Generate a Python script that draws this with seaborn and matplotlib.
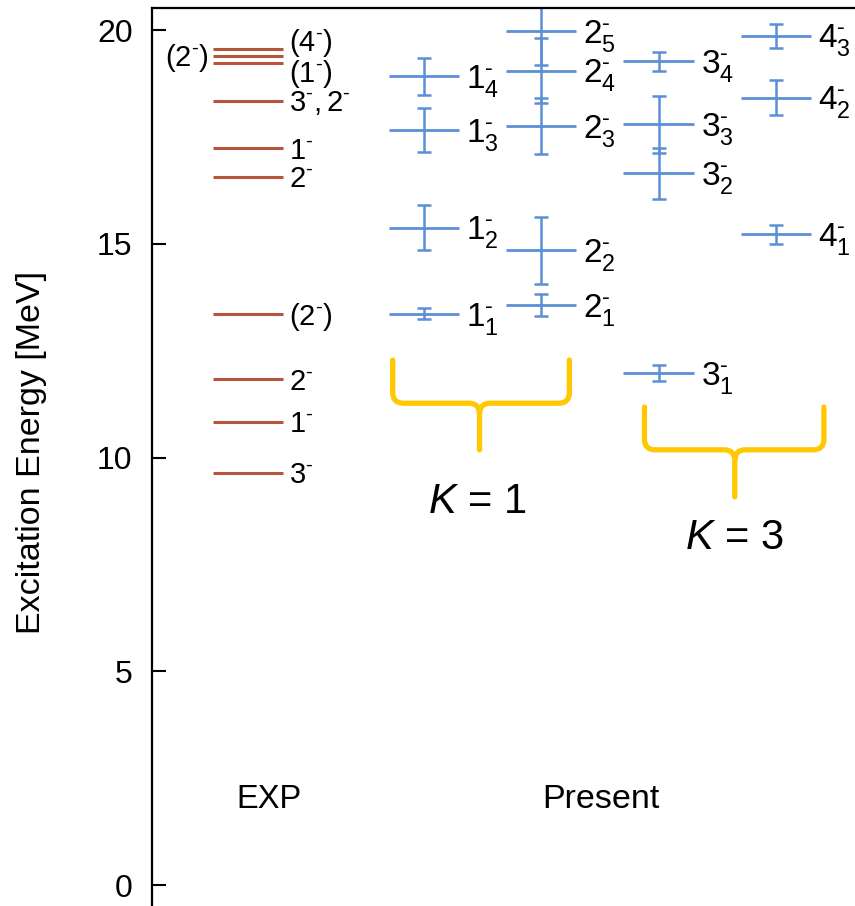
import numpy as np
import pandas as pd
import matplotlib
matplotlib.use("Agg")
import matplotlib.pyplot as plt
from matplotlib.path import Path
from matplotlib.patches import PathPatch
import seaborn as sns

# ---------------- data ----------------
M = "\u2010"  # small hyphen used as the parity sign
exp_energy = [9.64, 10.84, 11.83, 13.35, 16.57, 17.23, 18.35, 19.22, 19.40, 19.55]
exp_label = [r"$3^{%s}$" % M, r"$1^{%s}$" % M, r"$2^{%s}$" % M, r"$(2^{%s})$" % M,
             r"$2^{%s}$" % M, r"$1^{%s}$" % M, r"$3^{%s},2^{%s}$" % (M, M),
             r"$(1^{%s})$" % M, r"$(2^{%s})$" % M, r"$(4^{%s})$" % M]

j1_energy = [13.36, 15.38, 17.66, 18.92]
j1_err = [0.13, 0.53, 0.52, 0.43]
j2_energy = [13.57, 14.85, 17.75, 19.05, 19.98]
j2_err = [0.25, 0.78, 0.65, 0.76, 0.80]
j3_energy = [11.98, 16.65, 17.79, 19.27]
j3_err = [0.19, 0.60, 0.67, 0.22]
j4_energy = [15.22, 18.42, 19.87]
j4_err = [0.23, 0.41, 0.28]
spins = [1, 2, 3, 4]

yticks = [0, 5, 10, 15, 20]
ylabel = "Excitation Energy [MeV]"
group_labels = ["EXP", "Present"]
k_labels = [r"$\mathit{K}$ = 1", r"$\mathit{K}$ = 3"]

# ---------------- style ----------------
sns.set_theme(style="ticks")
plt.rcParams["font.family"] = ["Liberation Sans", "DejaVu Sans"]
plt.rcParams["mathtext.fontset"] = "custom"
plt.rcParams["mathtext.rm"] = "Liberation Sans"
plt.rcParams["mathtext.it"] = "Liberation Sans:italic"
plt.rcParams["mathtext.default"] = "regular"
plt.rcParams["text.color"] = "black"
plt.rcParams["axes.labelcolor"] = "black"

EXP_COLOR = "#B5553A"
TH_COLOR = "#5B8FD6"
BRACE_COLOR = "#FFC800"

fig = plt.figure(figsize=(8.55, 9.06), dpi=100)
ax = fig.add_axes([152 / 855, 0.0, 703 / 855, 898 / 906])
ax.set_xlim(-0.818, 5.175)
ax.set_ylim(-0.491, 20.515)

hw = 0.3  # half width of a level line
x_exp = 0.0
x_cols = [1.5, 2.5, 3.5, 4.5]

# experimental levels
df_exp = pd.DataFrame({"E": exp_energy, "label": exp_label})
ax.hlines(df_exp["E"], x_exp - hw, x_exp + hw, color=EXP_COLOR, lw=2.2)
label_shift = {9: 0.20, 7: -0.20}
for i, (e, lab) in enumerate(zip(exp_energy, exp_label)):
    if i == 8:
        ax.annotate(lab, xy=(x_exp - hw, e), xytext=(-3, -7.5), textcoords="offset points",
                    ha="right", va="baseline", fontsize=21)
    else:
        ax.annotate(lab, xy=(x_exp + hw, e + label_shift.get(i, 0.0)), xytext=(4, -7.5),
                    textcoords="offset points", ha="left", va="baseline", fontsize=21)

# calculated levels
rows = []
for j, en, er, xc in zip(spins, [j1_energy, j2_energy, j3_energy, j4_energy],
                         [j1_err, j2_err, j3_err, j4_err], x_cols):
    for n, (e, d) in enumerate(zip(en, er), start=1):
        rows.append({"J": j, "n": n, "E": e, "err": d, "x": xc})
df_th = pd.DataFrame(rows)

ax.hlines(df_th["E"], df_th["x"] - hw, df_th["x"] + hw, color=TH_COLOR, lw=2.0)
ax.errorbar(df_th["x"], df_th["E"], yerr=df_th["err"], fmt="none", ecolor=TH_COLOR,
            elinewidth=1.8, capsize=5, capthick=1.8)
for _, r in df_th.iterrows():
    ax.annotate(r"$%d^{%s}_{%d}$" % (r["J"], M, r["n"]), xy=(r["x"] + hw, r["E"]),
                xytext=(5, -8.5), textcoords="offset points", ha="left", va="baseline",
                fontsize=24)


# braces
def brace(x0, x1, xm, ytop, ymid, ybot, rx=0.09, ry=0.25):
    verts = [(x0, ytop), (x0, ymid + ry), (x0, ymid), (x0 + rx, ymid),
             (xm - rx, ymid), (xm, ymid), (xm, ymid - ry), (xm, ybot),
             (xm, ymid - ry), (xm, ymid), (xm + rx, ymid),
             (x1 - rx, ymid), (x1, ymid), (x1, ymid + ry), (x1, ytop)]
    codes = [Path.MOVETO, Path.LINETO, Path.CURVE3, Path.CURVE3,
             Path.LINETO, Path.CURVE3, Path.CURVE3, Path.LINETO,
             Path.MOVETO, Path.CURVE3, Path.CURVE3,
             Path.LINETO, Path.CURVE3, Path.CURVE3, Path.LINETO]
    ax.add_patch(PathPatch(Path(verts, codes), fill=False, edgecolor=BRACE_COLOR,
                           lw=3.8, capstyle="round", joinstyle="round", clip_on=False))


brace(1.234, 2.74, 1.974, 12.28, 11.27, 10.18)
brace(3.38, 4.91, 4.15, 11.18, 10.18, 9.08)
ax.text(1.957, 8.96, k_labels[0], ha="center", va="center", fontsize=30)
ax.text(4.145, 8.12, k_labels[1], ha="center", va="center", fontsize=30)

# group labels
ax.text(0.18, 1.99, group_labels[0], ha="center", va="center", fontsize=23.5)
ax.text(3.01, 1.99, group_labels[1], ha="center", va="center", fontsize=24.5)

# axes styling
ax.set_yticks(yticks)
ax.set_xticks([])
ax.tick_params(axis="y", direction="in", length=10, width=1.5, labelsize=23, pad=14,
               colors="black")
for s in ["right", "bottom"]:
    ax.spines[s].set_visible(False)
for s in ["left", "top"]:
    ax.spines[s].set_linewidth(1.6)
    ax.spines[s].set_color("black")
ax.set_ylabel(ylabel, fontsize=24.5)
ax.yaxis.set_label_coords(-0.149, 0.505)
ax.set_facecolor("white")

fig.savefig("out.png", dpi=100, facecolor="white")
